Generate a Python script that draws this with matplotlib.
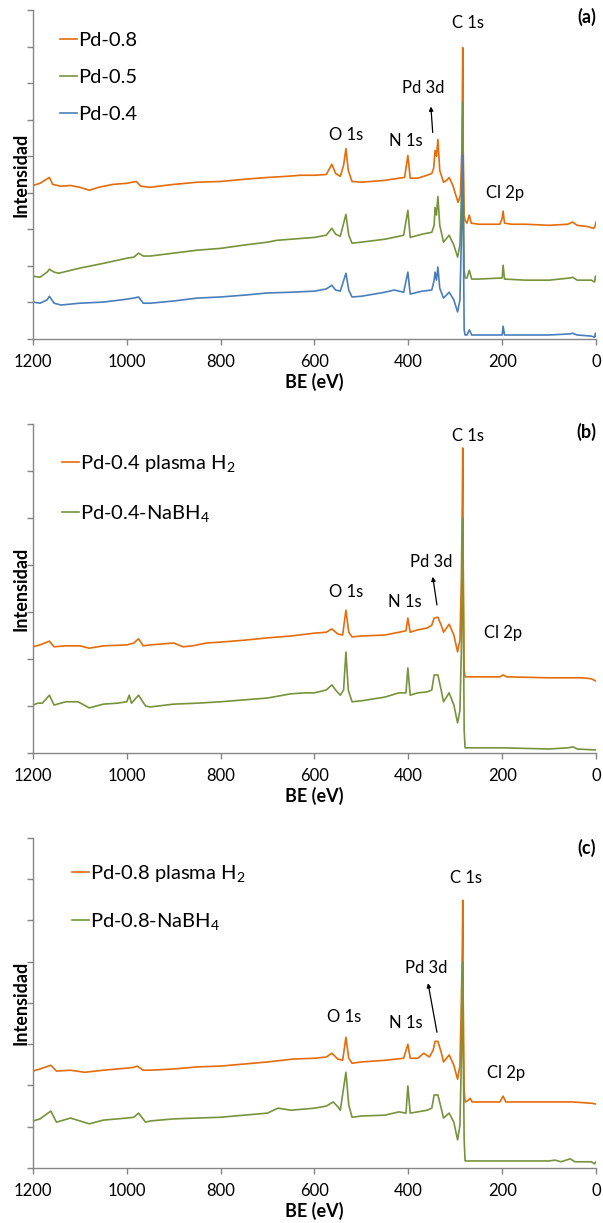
import matplotlib
matplotlib.use('Agg')
import matplotlib.pyplot as plt

plt.rcParams['font.family'] = ['Lato', 'DejaVu Sans']
plt.rcParams['mathtext.fontset'] = 'custom'
plt.rcParams['mathtext.rm'] = 'Lato'
plt.rcParams['mathtext.it'] = 'Lato'

# ---- panel (a) ----
be_a08 = [1200, 1185, 1165, 1158, 1140, 1120, 1100, 1080, 1060, 1030, 1000, 980, 970, 950, 920, 900,
          850, 800, 750, 700, 660, 630, 600, 575, 563, 555, 545, 538, 533, 528, 520, 500, 450, 420,
          408, 401, 396, 380, 360, 350, 346, 343, 340, 337, 333, 325, 318, 313, 305, 298, 294, 289,
          286, 285, 284, 283, 281, 279, 275, 270, 266, 250, 220, 205, 200, 198, 195, 180, 150, 100,
          60, 50, 40, 20, 5, 2, 0]
int_a08 = [4200, 4260, 4420, 4230, 4180, 4200, 4150, 4070, 4150, 4230, 4260, 4310, 4180, 4150, 4200, 4230,
           4290, 4310, 4370, 4420, 4450, 4480, 4480, 4500, 4780, 4530, 4450, 4750, 5210, 4610, 4310, 4290, 4340, 4400,
           4420, 5020, 4400, 4400, 4480, 4530, 4670, 5160, 5000, 5460, 4610, 4290, 4340, 4420, 4200, 3900, 3740, 3930,
           5160, 6500, 7970, 5160, 3390, 3250, 3170, 3390, 3170, 3140, 3140, 3140, 3300, 3500, 3170, 3140, 3140, 3110,
           3140, 3200, 3110, 3080, 3030, 3090, 3200]

be_a05 = [1200, 1185, 1170, 1165, 1155, 1145, 1100, 1050, 1000, 985, 975, 965, 950, 900, 850, 800, 750,
          700, 680, 600, 575, 563, 555, 545, 533, 527, 520, 500, 450, 420, 410, 401, 396, 370, 350, 345,
          343, 340, 337, 333, 325, 313, 303, 295, 290, 286, 284, 283, 281, 279, 275, 270, 265, 250, 200,
          198, 195, 150, 100, 55, 50, 40, 10, 3, 1, 0]
int_a05 = [1720, 1690, 1830, 1910, 1830, 1800, 1940, 2070, 2210, 2240, 2350, 2270, 2270, 2350, 2430, 2480, 2570,
           2650, 2700, 2780, 2840, 3030, 2870, 2810, 3410, 2840, 2620, 2650, 2730, 2810, 2840, 3520, 2780, 2870, 2920, 3110,
           3600, 3390, 3900, 3110, 2650, 2840, 2570, 2240, 2570, 4350, 6470, 4590, 1880, 1670, 1670, 1880, 1640, 1640, 1670,
           2020, 1640, 1610, 1610, 1670, 1690, 1610, 1610, 1560, 1720, 1640]

be_a04 = [1200, 1185, 1170, 1165, 1155, 1140, 1100, 1050, 1000, 985, 975, 965, 950, 900, 850, 800, 750,
          700, 650, 600, 575, 563, 555, 545, 533, 527, 520, 500, 450, 430, 410, 401, 396, 370, 350, 345,
          343, 340, 337, 333, 325, 313, 303, 295, 290, 286, 284, 283, 281, 279, 275, 270, 265, 250, 200,
          198, 195, 150, 100, 55, 50, 40, 10, 3, 1, 0]
int_a04 = [1010, 980, 1070, 1170, 980, 930, 980, 1010, 1090, 1120, 1150, 980, 980, 1040, 1120, 1150, 1200,
           1260, 1280, 1310, 1370, 1470, 1340, 1310, 1800, 1340, 1150, 1170, 1280, 1340, 1280, 1830, 1230, 1310, 1340, 1610,
           1830, 1610, 1970, 1390, 1120, 1280, 1070, 740, 1070, 3280, 5020, 3280, 250, 110, 110, 250, 110, 110, 110,
           350, 110, 110, 110, 140, 160, 110, 80, 50, 160, 80]

# ---- panel (b) ----
be_b_pl = [1200, 1185, 1165, 1155, 1130, 1100, 1080, 1050, 1000, 985, 975, 965, 950, 900, 880, 860, 830,
           800, 750, 700, 650, 600, 575, 563, 550, 540, 533, 527, 520, 500, 450, 420, 405, 401, 396, 380,
           360, 350, 345, 337, 330, 325, 313, 303, 295, 290, 287, 285, 284, 283, 281, 279, 250, 205, 198,
           190, 100, 30, 10, 0]
int_b_pl = [2260, 2300, 2380, 2260, 2280, 2280, 2230, 2280, 2300, 2340, 2430, 2280, 2300, 2340, 2260, 2280, 2340,
            2360, 2400, 2450, 2490, 2550, 2570, 2640, 2530, 2510, 3040, 2570, 2470, 2490, 2510, 2570, 2600, 2870, 2570, 2620,
            2660, 2720, 2870, 2890, 2720, 2570, 2740, 2510, 2150, 2400, 3680, 5380, 6490, 4090, 1770, 1620, 1620, 1620, 1660,
            1620, 1600, 1600, 1580, 1530]

be_b_nb = [1200, 1190, 1180, 1165, 1155, 1130, 1104, 1080, 1050, 1020, 1000, 995, 990, 975, 960, 950, 900,
           850, 800, 750, 700, 650, 620, 600, 575, 563, 555, 545, 538, 533, 528, 520, 500, 450, 420, 405,
           401, 396, 380, 360, 350, 345, 337, 330, 325, 313, 303, 295, 290, 287, 285, 284, 283, 281, 279,
           250, 200, 100, 60, 49, 40, 0]
int_b_nb = [1020, 1060, 1060, 1230, 1020, 1090, 1090, 960, 1040, 1060, 1090, 1230, 1060, 1230, 1000, 980, 1040,
            1060, 1090, 1130, 1170, 1260, 1280, 1280, 1340, 1450, 1340, 1230, 1340, 2150, 1340, 1090, 1110, 1190, 1280, 1280,
            1810, 1230, 1280, 1300, 1340, 1660, 1660, 1340, 1090, 1280, 1020, 640, 910, 2180, 3660, 5000, 3280, 490, 110,
            110, 110, 85, 110, 130, 85, 64]

# ---- panel (c) ----
be_c_pl = [1200, 1185, 1162, 1150, 1120, 1090, 1050, 1000, 985, 978, 965, 950, 900, 850, 800, 750, 700,
           646, 600, 575, 563, 550, 540, 533, 527, 520, 500, 450, 410, 401, 396, 380, 367, 355, 347, 343,
           337, 330, 325, 313, 303, 295, 290, 287, 285, 284, 283, 281, 279, 275, 268, 264, 250, 205, 198,
           192, 150, 100, 50, 10, 0]
int_c_pl = [2350, 2400, 2490, 2350, 2370, 2320, 2370, 2420, 2440, 2470, 2370, 2370, 2400, 2450, 2470, 2520, 2570,
            2640, 2660, 2690, 2780, 2640, 2610, 3170, 2660, 2540, 2570, 2610, 2660, 3000, 2660, 2660, 2780, 2690, 2860, 3070,
            3070, 2810, 2570, 2740, 2490, 2150, 2490, 4060, 5270, 6490, 4060, 1890, 1600, 1620, 1690, 1600, 1600, 1600, 1740,
            1600, 1600, 1600, 1600, 1570, 1550]

be_c_nb = [1200, 1185, 1162, 1150, 1120, 1080, 1050, 1000, 985, 975, 960, 950, 900, 850, 800, 750, 700,
           678, 650, 600, 575, 560, 550, 545, 533, 527, 520, 500, 450, 420, 405, 401, 396, 380, 360, 350,
           345, 337, 330, 325, 313, 303, 295, 290, 287, 285, 284, 283, 281, 279, 250, 200, 150, 100, 87,
           75, 55, 45, 10, 3, 0]
int_c_nb = [1140, 1190, 1380, 1110, 1210, 1070, 1160, 1210, 1230, 1330, 1110, 1140, 1190, 1210, 1230, 1280, 1330,
            1450, 1400, 1450, 1500, 1600, 1480, 1400, 2320, 1530, 1230, 1260, 1280, 1360, 1330, 1990, 1330, 1360, 1400, 1450,
            1770, 1770, 1450, 1210, 1330, 1110, 680, 1040, 2610, 3820, 4990, 2850, 680, 170, 170, 170, 170, 170, 190,
            150, 220, 150, 150, 100, 150]

ORANGE = '#E46C0A'
GREEN = '#77933C'
BLUE = '#4A7EBB'

fig = plt.figure(figsize=(6.03, 12.23), dpi=100)


def style(ax, ymax, step):
    ax.set_xlim(1200, 0)
    ax.set_ylim(0, ymax)
    ax.set_xticks(range(0, 1201, 200))
    ax.set_yticks(range(0, ymax + 1, step))
    ax.set_yticklabels([])
    for s in ['top', 'right']:
        ax.spines[s].set_visible(False)
    for s in ['left', 'bottom']:
        ax.spines[s].set_color('#868686')
        ax.spines[s].set_linewidth(1.0)
    ax.tick_params(axis='both', colors='#868686', length=4, width=1.0, labelsize=12,
                   labelcolor='black', direction='out')
    ax.tick_params(axis='x', pad=7)
    ax.set_xlabel('BE (eV)', fontsize=13, fontweight='bold', labelpad=2)
    ax.set_ylabel('Intensidad', fontsize=13, fontweight='bold')
    ax.yaxis.set_label_coords(-0.006, 0.5)


def labels(ax, tag, tag_y, c1s, pd, arrow, o1s, n1s, cl):
    ax.text(1.0, tag_y, tag, transform=ax.transAxes, ha='right', va='center',
            fontsize=13, fontweight='bold')
    ax.text(c1s[0], c1s[1], 'C 1s', ha='center', va='center', fontsize=12)
    ax.text(pd[0], pd[1], 'Pd 3d', ha='center', va='center', fontsize=12)
    ax.text(o1s[0], o1s[1], 'O 1s', ha='center', va='center', fontsize=12)
    ax.text(n1s[0], n1s[1], 'N 1s', ha='center', va='center', fontsize=12)
    ax.text(cl[0], cl[1], 'Cl 2p', ha='center', va='center', fontsize=12)
    ax.annotate('', xy=arrow[1], xytext=arrow[0],
                arrowprops=dict(arrowstyle='-|>', color='black', lw=0.9,
                                mutation_scale=6, shrinkA=0, shrinkB=0))


# (a)
ax1 = fig.add_axes([0.0547, 0.7228, 0.9337, 0.2690])
ax1.plot(be_a08, int_a08, color=ORANGE, lw=1.2, label='Pd-0.8')
ax1.plot(be_a05, int_a05, color=GREEN, lw=1.2, label='Pd-0.5')
ax1.plot(be_a04, int_a04, color=BLUE, lw=1.2, label='Pd-0.4')
style(ax1, 9000, 1000)
labels(ax1, '(a)', 0.979, (273, 8650), (369, 6880), ((348, 5650), (352, 6360)),
       (533, 5570), (405, 5430), (194, 3990))
ax1.legend(loc='upper left', bbox_to_anchor=(0.034, 0.957), frameon=False, fontsize=14.5,
           handlelength=0.85, handletextpad=0.05, labelspacing=0.98, borderaxespad=0)

# (b)
ax2 = fig.add_axes([0.0547, 0.3843, 0.9337, 0.2690])
ax2.plot(be_b_pl, int_b_pl, color=ORANGE, lw=1.2, label='Pd-0.4 plasma H$_2$')
ax2.plot(be_b_nb, int_b_nb, color=GREEN, lw=1.2, label='Pd-0.4-NaBH$_4$')
style(ax2, 7000, 1000)
labels(ax2, '(b)', 0.976, (273, 6750), (352, 4060), ((339, 3150), (348, 3750)),
       (533, 3430), (407, 3210), (198, 2550))
ax2.legend(loc='upper left', bbox_to_anchor=(0.037, 0.936), frameon=False, fontsize=14.5,
           handlelength=0.85, handletextpad=0.05, labelspacing=1.45, borderaxespad=0)

# (c)
ax3 = fig.add_axes([0.0547, 0.0450, 0.9337, 0.2698])
ax3.plot(be_c_pl, int_c_pl, color=ORANGE, lw=1.2, label='Pd-0.8 plasma H$_2$')
ax3.plot(be_c_nb, int_c_nb, color=GREEN, lw=1.2, label='Pd-0.8-NaBH$_4$')
style(ax3, 8000, 1000)
labels(ax3, '(c)', 0.97, (277, 7040), (362, 4840), ((339, 3290), (358, 4480)),
       (537, 3660), (405, 3510), (192, 2300))
ax3.legend(loc='upper left', bbox_to_anchor=(0.055, 0.948), frameon=False, fontsize=14.5,
           handlelength=0.85, handletextpad=0.05, labelspacing=1.35, borderaxespad=0)

fig.savefig('out.png', dpi=100)
